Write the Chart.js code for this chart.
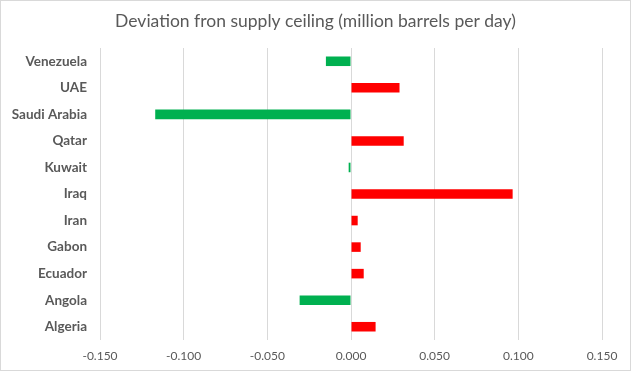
<!DOCTYPE html>
<html>
<head>
<meta charset="utf-8">
<script src="https://cdn.jsdelivr.net/npm/chart.js@4/dist/chart.umd.min.js"></script>
<style>
  html, body { margin: 0; padding: 0; background: #fff; }
  #wrap { position: relative; width: 631px; height: 371px; }
</style>
</head>
<body>
<div id="wrap"><canvas id="chart"></canvas></div>
<script>
  // categories top to bottom, as shown
  const countries = ['Venezuela', 'UAE', 'Saudi Arabia', 'Qatar', 'Kuwait', 'Iraq', 'Iran', 'Gabon', 'Ecuador', 'Angola', 'Algeria'];
  const deviation = [-0.015, 0.029, -0.117, 0.0315, -0.0014, 0.0966, 0.004, 0.0058, 0.0076, -0.0307, 0.0147];
  const xTicks = [-0.15, -0.1, -0.05, 0, 0.05, 0.1, 0.15];

  const textGrey = '#595959';
  const gridGrey = '#d9d9d9';

  // thin frame round the whole chart, like the Excel chart border
  const framePlugin = {
    id: 'frame',
    afterDraw(chart) {
      const ctx = chart.ctx;
      ctx.save();
      ctx.strokeStyle = gridGrey;
      ctx.lineWidth = 1;
      ctx.strokeRect(0.5, 0.5, chart.width - 1, chart.height - 1);
      ctx.restore();
    }
  };

  new Chart(document.getElementById('chart'), {
    type: 'bar',
    data: {
      labels: countries,
      datasets: [{
        data: deviation,
        backgroundColor: deviation.map(v => v < 0 ? '#00b050' : '#ff0000'),
        borderWidth: 0,
        barPercentage: 0.36,
        categoryPercentage: 1
      }]
    },
    options: {
      indexAxis: 'y',
      responsive: true,
      maintainAspectRatio: false,
      animation: false,
      layout: { padding: 0 },
      scales: {
        x: {
          min: xTicks[0],
          max: xTicks[xTicks.length - 1],
          afterBuildTicks: scale => { scale.ticks = xTicks.map(v => ({ value: v })); },
          afterFit: scale => { scale.height = 31; },
          grid: { color: gridGrey, lineWidth: 1, drawTicks: false },
          border: { display: false },
          ticks: {
            padding: 9,
            color: textGrey,
            font: { family: 'Lato', size: 12 },
            callback: v => Number(v).toFixed(3)
          }
        },
        y: {
          afterFit: scale => { scale.width = 100; },
          grid: { display: false, drawTicks: false },
          border: { display: false },
          ticks: {
            padding: 13,
            color: textGrey,
            font: { family: 'Lato', size: 13.5, weight: 'bold' }
          }
        },
        // empty right margin so the title stays centred on the whole chart
        yRight: {
          position: 'right',
          afterFit: scale => { scale.width = 29; },
          grid: { display: false, drawTicks: false },
          border: { display: false },
          ticks: { display: false }
        }
      },
      plugins: {
        legend: { display: false },
        tooltip: { enabled: false },
        title: {
          display: true,
          text: 'Deviation fron supply ceiling (million barrels per day)',
          color: textGrey,
          font: { family: 'Lato', size: 17.5, weight: 'normal' },
          padding: { top: 11, bottom: 16 }
        }
      }
    },
    plugins: [framePlugin]
  });
</script>
</body>
</html>
